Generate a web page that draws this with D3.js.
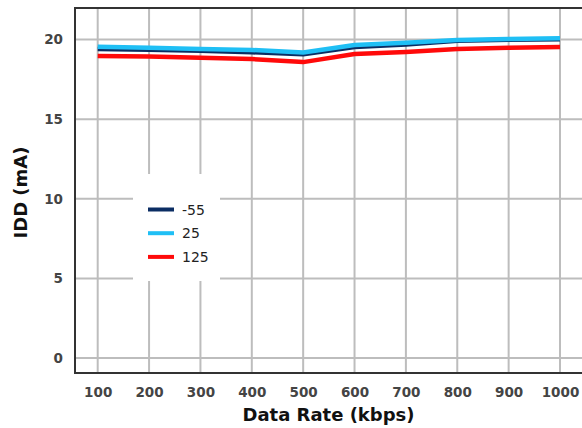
<!DOCTYPE html>
<html><head><meta charset="utf-8">
<script src="https://cdn.jsdelivr.net/npm/d3@7"></script>
<style>html,body{margin:0;padding:0;background:#fff;}svg{display:block;}</style>
</head><body>
<script>
const rates = [100,200,300,400,500,600,700,800,900,1000];
const idd_m55 = [19.40,19.35,19.29,19.20,19.07,19.53,19.68,19.92,19.98,20.02];
const idd_25  = [19.55,19.48,19.41,19.34,19.19,19.66,19.80,19.97,20.03,20.08];
const idd_125 = [18.97,18.93,18.86,18.77,18.58,19.09,19.22,19.40,19.48,19.53];
const xTicks = [100,200,300,400,500,600,700,800,900,1000];
const yTicks = [0,5,10,15,20];
const seriesNames = ["-55","25","125"];
const seriesColors = ["#0b2d63","#1fbff5","#ff0a0a"];

const W=582,H=428;
const svg=d3.select("body").append("svg").attr("width",W).attr("height",H);
const L=75,R=582,T=8,B=373;
const x=d3.scaleLinear().domain([100,1000]).range([97.7,560]);
const y=d3.scaleLinear().domain([0,20]).range([358,39.5]);
const font="'DejaVu Sans', Verdana, sans-serif";

// gridlines
const g=svg.append("g");
g.selectAll("line.v").data(xTicks).enter().append("line")
 .attr("x1",d=>x(d)).attr("x2",d=>x(d)).attr("y1",T).attr("y2",B)
 .attr("stroke","#bdbdbd").attr("stroke-width",2);
g.selectAll("line.h").data(yTicks).enter().append("line")
 .attr("x1",L).attr("x2",R).attr("y1",d=>y(d)).attr("y2",d=>y(d))
 .attr("stroke","#bdbdbd").attr("stroke-width",2);

// axes frame
svg.append("line").attr("x1",L).attr("x2",R).attr("y1",T).attr("y2",T).attr("stroke","#333").attr("stroke-width",2);
svg.append("line").attr("x1",L).attr("x2",L).attr("y1",T-1).attr("y2",B+1).attr("stroke","#333").attr("stroke-width",2);
svg.append("line").attr("x1",L).attr("x2",R).attr("y1",B).attr("y2",B).attr("stroke","#333").attr("stroke-width",2);

// axis tick labels via d3 axes
const xAxis=svg.append("g").attr("transform",`translate(0,${B})`)
 .call(d3.axisBottom(x).tickValues(xTicks).tickSize(0).tickPadding(14).tickFormat(d3.format("d")));
xAxis.select(".domain").remove();
xAxis.selectAll("text").attr("font-family",font).attr("font-weight","bold").attr("font-size",13.5).attr("fill","#444");
const yAxis=svg.append("g").attr("transform",`translate(${L},0)`)
 .call(d3.axisLeft(y).tickValues(yTicks).tickSize(0).tickPadding(12).tickFormat(d3.format("d")));
yAxis.select(".domain").remove();
yAxis.selectAll("text").attr("font-family",font).attr("font-weight","bold").attr("font-size",13.5).attr("fill","#444");

// titles
svg.append("text").attr("x",(L+R)/2).attr("y",421).attr("text-anchor","middle")
 .attr("font-family",font).attr("font-weight","bold").attr("font-size",18).attr("fill","#111").text("Data Rate (kbps)");
svg.append("text").attr("transform",`translate(27,${(T+B)/2+2}) rotate(-90)`).attr("text-anchor","middle")
 .attr("font-family",font).attr("font-weight","bold").attr("font-size",18).attr("fill","#111").text("IDD (mA)");

// lines
const series=[idd_m55,idd_25,idd_125];
const line=d3.line().x((d,i)=>x(rates[i])).y(d=>y(d));
series.forEach((s,k)=>{
  svg.append("path").datum(s).attr("d",line).attr("fill","none")
   .attr("stroke",seriesColors[k]).attr("stroke-width",4.5).attr("stroke-linejoin","round");
});

// legend
const lg=svg.append("g");
lg.append("rect").attr("x",133).attr("y",174).attr("width",87).attr("height",107).attr("fill","#fff");
seriesNames.forEach((n,k)=>{
  const yy=209.5+k*23.7;
  lg.append("line").attr("x1",148).attr("x2",174).attr("y1",yy).attr("y2",yy)
   .attr("stroke",seriesColors[k]).attr("stroke-width",4);
  lg.append("text").attr("x",182).attr("y",yy+5).attr("font-family",font).attr("font-size",14).attr("fill","#222").text(n);
});
</script>
</body></html>
